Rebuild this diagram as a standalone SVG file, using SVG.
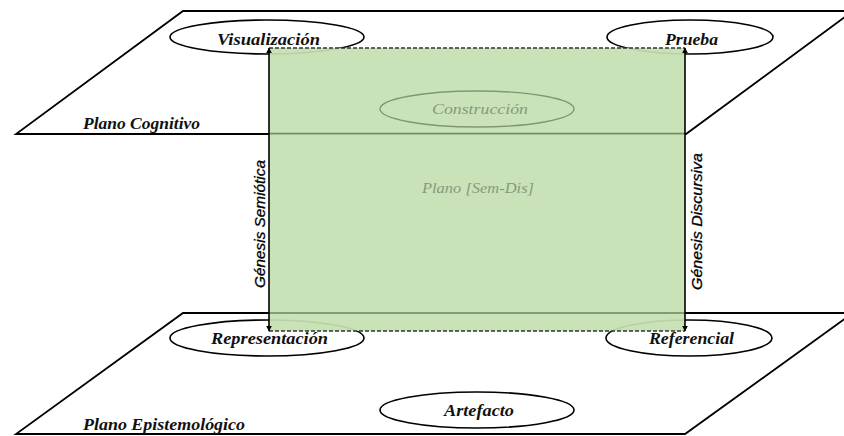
<svg xmlns="http://www.w3.org/2000/svg" width="844" height="436" viewBox="0 0 844 436">
  <defs>
    <style>
      .plane { fill: #ffffff; stroke: #000000; stroke-width: 1.8; }
      .ell { fill: none; stroke: #000000; stroke-width: 1.6; }
      .lbl { font-family: "Liberation Serif", "DejaVu Serif", serif; font-style: italic; font-weight: bold; font-size: 16px; fill: #111111; text-anchor: middle; }
      .plbl { font-family: "Liberation Serif", "DejaVu Serif", serif; font-style: italic; font-weight: bold; font-size: 16px; fill: #111111; }
      .gen { font-family: "Liberation Sans", "DejaVu Sans", sans-serif; font-style: italic; font-size: 15px; fill: #000000; stroke: #000000; stroke-width: 0.3; text-anchor: middle; }
      .faint { font-family: "Liberation Serif", "DejaVu Serif", serif; font-style: italic; font-size: 14px; fill: #86997a; text-anchor: middle; }
      .conn { stroke: #000000; stroke-width: 1.6; fill: none; marker-start: url(#ah); marker-end: url(#ah); }
    </style>
    <marker id="ah" viewBox="0 0 10 10" refX="9" refY="5" markerWidth="6" markerHeight="6" markerUnits="userSpaceOnUse" orient="auto-start-reverse">
      <path d="M0,0 L10,5 L0,10 z" fill="#000000"/>
    </marker>
  </defs>
  <rect x="0" y="0" width="844" height="436" fill="#ffffff"/>

  <g id="plano-epistemologico">
    <polygon class="plane" points="183,313 853,313 685,434 16,434"/>
    <text class="plbl" x="83" y="430" textLength="162" lengthAdjust="spacingAndGlyphs">Plano Epistemológico</text>
  </g>
  <g id="plano-cognitivo">
    <polygon class="plane" points="183,11 853,11 686,134 16,134"/>
    <text class="plbl" x="83" y="129" textLength="117" lengthAdjust="spacingAndGlyphs">Plano Cognitivo</text>
  </g>

  <g id="visualizacion-shape"><ellipse class="ell" cx="267" cy="37" rx="97" ry="17"/></g>
  <g id="prueba-shape"><ellipse class="ell" cx="690" cy="37" rx="83" ry="17"/></g>
  <g id="representacion-shape"><ellipse class="ell" cx="267" cy="338" rx="97" ry="18"/></g>
  <g id="referencial-shape"><ellipse class="ell" cx="689" cy="338" rx="83" ry="18"/></g>

  <g id="plano-sem-dis">
    <rect x="269" y="48" width="416" height="283" fill="#c5e0b3" opacity="0.93"/>
    <line x1="269" y1="133.5" x2="685" y2="133.5" stroke="#6f8c61" stroke-width="1.6"/>
    <line x1="269" y1="313" x2="685" y2="313" stroke="#6f8c61" stroke-width="1.6"/>
    <line x1="269" y1="48" x2="685" y2="48" stroke="#333333" stroke-width="1.3" stroke-dasharray="4,2"/>
    <line x1="269" y1="331" x2="685" y2="331" stroke="#333333" stroke-width="1.3" stroke-dasharray="4,2"/>
    <text class="faint" x="478" y="193" textLength="112" lengthAdjust="spacingAndGlyphs">Plano [Sem-Dis]</text>
  </g>

  <g id="construccion">
    <ellipse cx="477" cy="109" rx="97" ry="18" fill="none" stroke="#7f9871" stroke-width="1.4"/>
    <text class="faint" x="480" y="114" textLength="96" lengthAdjust="spacingAndGlyphs">Construcción</text>
  </g>

  <g id="connectors">
    <line class="conn" x1="269" y1="331" x2="269" y2="48"/>
    <line class="conn" x1="685" y1="331" x2="685" y2="48"/>
    <text class="gen" transform="translate(265,224) rotate(-90)" textLength="128" lengthAdjust="spacingAndGlyphs">Génesis Semiótica</text>
    <text class="gen" transform="translate(702,221.5) rotate(-90)" textLength="137" lengthAdjust="spacingAndGlyphs">Génesis Discursiva</text>
  </g>

  <g id="visualizacion"><text class="lbl" x="268.5" y="45" textLength="103" lengthAdjust="spacingAndGlyphs">Visualización</text></g>
  <g id="prueba"><text class="lbl" x="691.5" y="45" textLength="53" lengthAdjust="spacingAndGlyphs">Prueba</text></g>
  <g id="representacion"><text class="lbl" x="269.5" y="344" textLength="117" lengthAdjust="spacingAndGlyphs">Representación</text></g>
  <g id="referencial"><text class="lbl" x="691.5" y="344" textLength="85" lengthAdjust="spacingAndGlyphs">Referencial</text></g>
  <g id="artefacto">
    <ellipse class="ell" cx="477" cy="410" rx="97" ry="18"/>
    <text class="lbl" x="479" y="416" textLength="70" lengthAdjust="spacingAndGlyphs">Artefacto</text>
  </g>
</svg>
